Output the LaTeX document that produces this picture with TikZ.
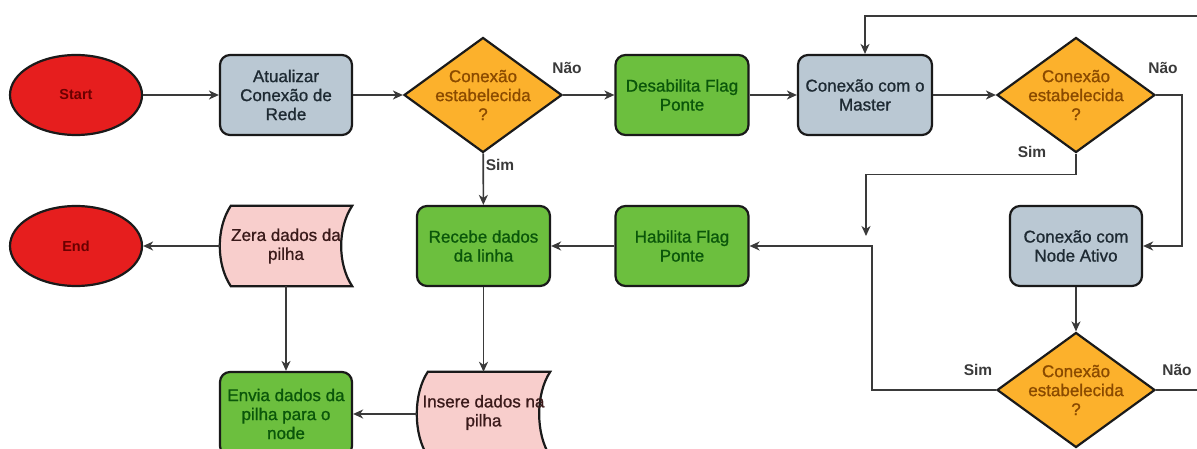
\documentclass[tikz,border=0pt]{standalone}
\usepackage{fontspec}
\setmainfont{Liberation Sans}
\newfontfamily\boxfont{Liberation Sans}[FakeBold=1.0]
\usetikzlibrary{shapes.geometric,arrows.meta,calc}

\definecolor{redfill}{HTML}{E61E1E}
\definecolor{redtext}{HTML}{6A0000}
\definecolor{grayfill}{HTML}{BAC8D3}
\definecolor{graytext}{HTML}{1E2A33}
\definecolor{yelfill}{HTML}{FCB12C}
\definecolor{yeltext}{HTML}{8A4A00}
\definecolor{grnfill}{HTML}{6CBF3E}
\definecolor{grntext}{HTML}{0A560A}
\definecolor{pinkfill}{HTML}{F8CECC}
\definecolor{pinktext}{HTML}{3A1A1A}
\definecolor{edgecol}{HTML}{1A1A1A}
\definecolor{wire}{HTML}{3A3A3A}

\tikzset{
  base/.style={draw=edgecol, line width=2.2pt, inner sep=0pt, align=center,
    font=\boxfont\fontsize{17}{19}\selectfont},
  terminal/.style={base, ellipse, fill=redfill, text=redtext,
    minimum width=132pt, minimum height=80pt, font=\fontsize{14.5}{17}\selectfont\bfseries},
  process/.style={base, rectangle, rounded corners=10pt, minimum width=132pt, minimum height=80pt},
  grayproc/.style={process, fill=grayfill, text=graytext},
  greenproc/.style={process, fill=grnfill, text=grntext},
  decision/.style={base, diamond, fill=yelfill, minimum width=158pt, minimum height=115pt},
  dectext/.style={text=yeltext, align=center, inner sep=0pt, font=\boxfont\fontsize{17}{19}\selectfont},
  holder/.style={rectangle, inner sep=0pt, minimum width=133pt, minimum height=84pt},
  storedtext/.style={text=pinktext, align=center, inner sep=0pt, font=\boxfont\fontsize{17}{19}\selectfont},
  storedshape/.style={draw=edgecol, line width=2.2pt, fill=pinkfill},
  flow/.style={draw=wire, line width=1.6pt, -{Stealth[length=10pt,width=9pt,inset=3pt]}},
  plain/.style={draw=wire, line width=1.6pt},
  branch/.style={font=\fontsize{15.5}{18}\selectfont\bfseries, text=wire, inner sep=0pt},
}

% stored-data outline: convex left side, concave right side
\newcommand\drawstored[1]{%
  \draw[storedshape] ($(#1.north west)+(11,0)$) -- (#1.north east)
    .. controls ($(#1.north east)+(-14.7,22)$) and ($(#1.south east)+(-14.7,-22)$) .. (#1.south east)
    -- ($(#1.south west)+(11,0)$)
    .. controls ($(#1.south west)+(-3.7,-22)$) and ($(#1.north west)+(-3.7,22)$) .. ($(#1.north west)+(11,0)$) -- cycle;}

\begin{document}
\begin{tikzpicture}[x=1pt,y=-1pt]
  \fill[white] (0,0) rectangle (1197,449);
  \useasboundingbox (0,0) rectangle (1197,449);

  % top row
  \node[terminal] (start) at (76,95) {Start};
  \node[grayproc] (atual) at (286,95) {Atualizar\\Conexão de\\Rede};
  \node[decision] (d1) at (483,95) {};
  \node[dectext] (d1t) at (d1) {Conexão\\estabelecida\\?};
  \node[greenproc, minimum width=133pt] (desab) at (682,95) {Desabilita Flag\\Ponte};
  \node[grayproc, minimum width=134pt] (master) at (865,95) {Conexão com o\\Master};
  \node[decision] (d2) at (1076,95) {};
  \node[dectext] (d2t) at (d2) {Conexão\\estabelecida\\?};

  % middle row
  \node[terminal] (end) at (76,246) {End};
  \node[holder, minimum width=132pt, minimum height=80pt] (zera) at (286,246) {};
  \drawstored{zera}
  \node[storedtext] (zerat) at (zera) {Zera dados da\\pilha};
  \node[greenproc, minimum width=133pt] (recebe) at (483.5,246) {Recebe dados\\da linha};
  \node[greenproc, minimum width=133pt] (habil) at (682,246) {Habilita Flag\\Ponte};
  \node[grayproc] (ativo) at (1076,246) {Conexão com\\Node Ativo};

  % bottom row
  \node[greenproc, minimum height=84pt] (envia) at (286,414) {Envia dados da\\pilha para o\\node};
  \node[holder] (ins) at (483.5,414) {};
  \drawstored{ins}
  \node[storedtext] (inst) at ($(ins)+(0,-1.5)$) {Insere dados na\\pilha};
  \node[decision] (d3) at (1076,390) {};
  \node[dectext] (d3t) at (d3) {Conexão\\estabelecida\\?};

  % free ends
  \coordinate (loopin) at (1197,16);
  \coordinate (simdrop) at (866,236);
  \coordinate (simjoin) at (872,246);
  \coordinate (naoout) at (1197,390);

  % connectors
  \draw[flow] (start) -- (atual);
  \draw[flow] (atual) -- (d1);
  \draw[flow] (d1) -- (desab);
  \draw[flow] (desab) -- (master);
  \draw[flow] (master) -- (d2);
  \draw[flow] (loopin) -| (master.north);
  \draw[flow] (d2.south) -- ++(0,21) -| (simdrop);
  \draw[flow] (d2.east) -- ++(26,0) |- (ativo.east);
  \draw[flow] (ativo) -- (d3);
  \draw[flow] (d3.west) -| (simjoin) -- (habil.east);
  \draw[plain] (d3.east) -- (naoout);
  \draw[flow] (habil) -- (recebe);
  \draw[flow] (d1) -- (recebe);
  \draw[flow] (recebe) -- (ins);
  \draw[flow] (ins.west |- envia.east) -- (envia.east);
  \draw[flow] (zera.west) -- (end.east);
  \draw[flow] (zera) -- (envia);

  % branch labels
  \node[branch] (n1) at (567,68) {Não};
  \node[branch] (s1) at (500,165) {Sim};
  \node[branch] (n2) at (1163,68) {Não};
  \node[branch] (s2) at (1032,152) {Sim};
  \node[branch] (s3) at (978,370) {Sim};
  \node[branch] (n3) at (1177,370) {Não};
\end{tikzpicture}
\end{document}
